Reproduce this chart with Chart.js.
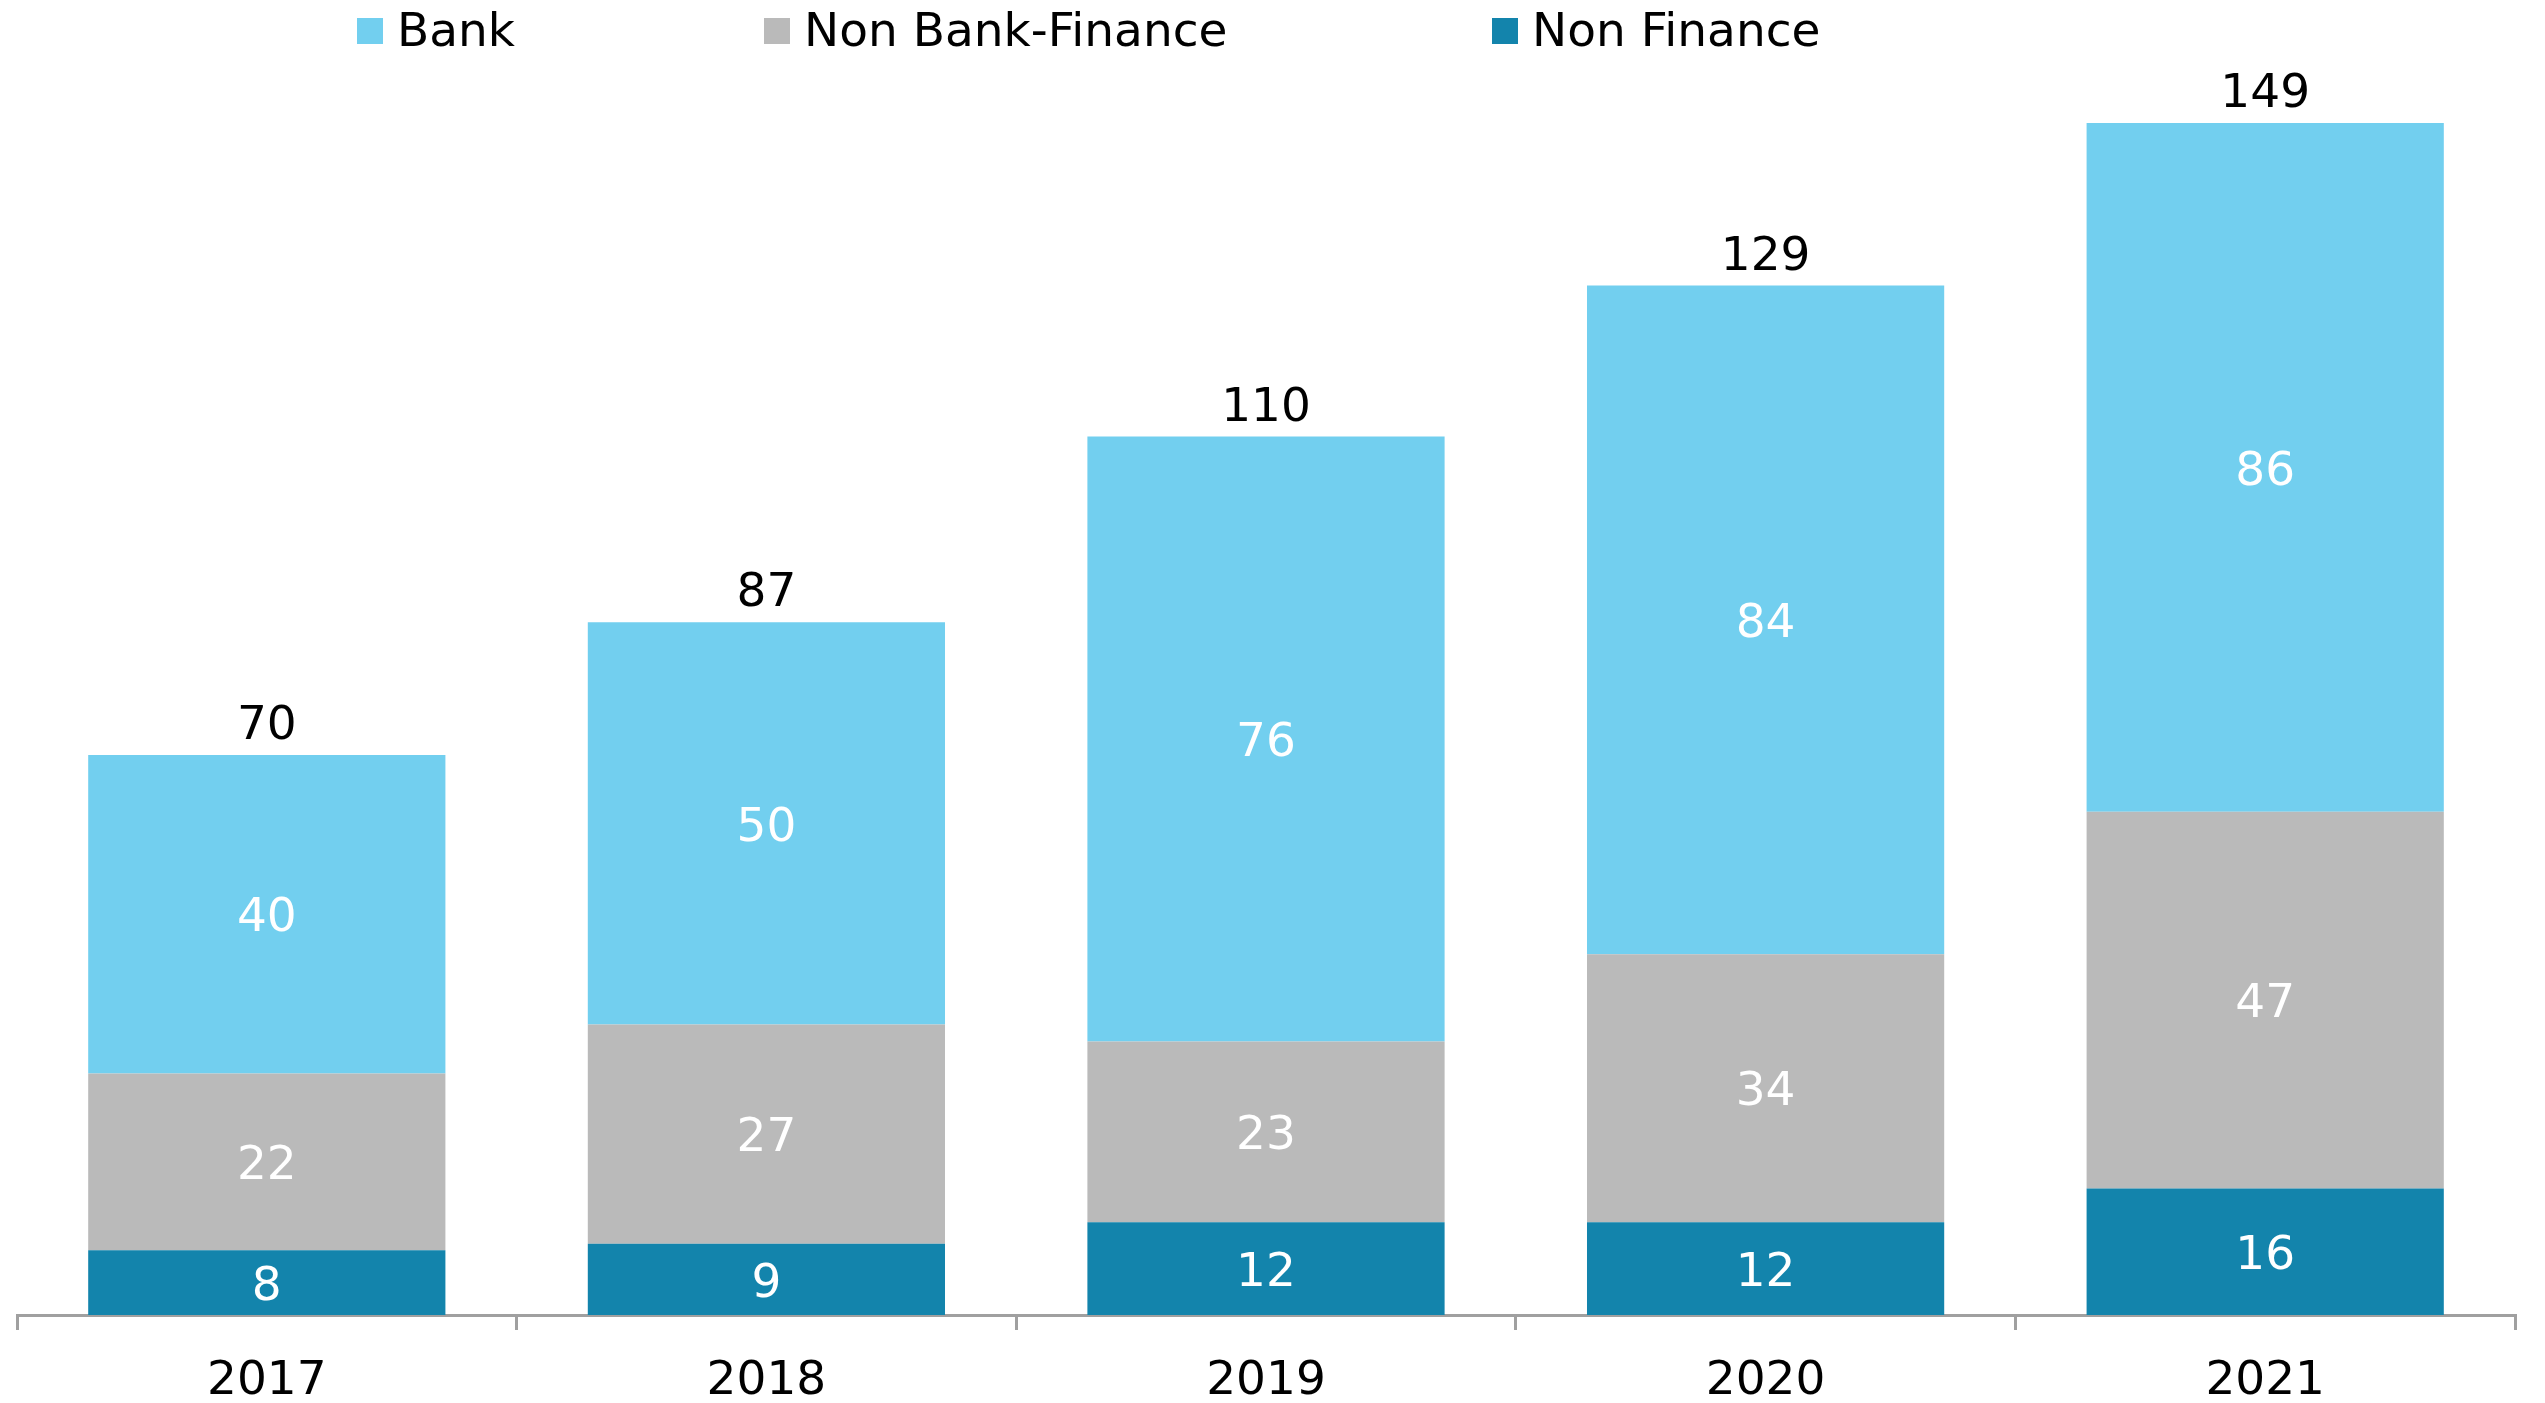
<!DOCTYPE html>
<html>
<head>
<meta charset="utf-8">
<script src="https://cdn.jsdelivr.net/npm/chart.js@4.4.1/dist/chart.umd.min.js"></script>
<style>
html,body{margin:0;padding:0;background:#fff;overflow:hidden}
#wrap{width:2545px;height:1403px;position:relative}
canvas{display:block}
</style>
</head>
<body>
<div id="wrap"><canvas id="c" width="2545" height="1403"></canvas></div>
<script>
// ---- data ----
const categories = ['2017', '2018', '2019', '2020', '2021'];
const nonFinance = [8.1, 8.9, 11.6, 11.6, 15.8];
const nonBankFinance = [22.1, 27.4, 22.6, 33.5, 47.1];
const bank = [39.8, 50.3, 75.6, 83.6, 86.1];
const seriesNames = ['Non Finance', 'Non Bank-Finance', 'Bank'];
const legendOrder = ['Bank', 'Non Bank-Finance', 'Non Finance'];

// ---- style ----
const COLORS = {
  'Non Finance': '#1384AC',
  'Non Bank-Finance': '#BABABA',
  'Bank': '#72CFEF'
};
const FONT = '"DejaVu Sans", Verdana, sans-serif';
const FS = 47;
Chart.defaults.font.family = FONT;

const valueLabels = {
  id: 'valueLabels',
  afterDatasetsDraw(chart) {
    const ctx = chart.ctx;
    ctx.save();
    ctx.font = FS + 'px ' + FONT;
    ctx.textAlign = 'center';
    ctx.textBaseline = 'middle';
    const n = chart.data.labels.length;
    chart.data.datasets.forEach((ds, di) => {
      const meta = chart.getDatasetMeta(di);
      meta.data.forEach((el, i) => {
        const v = ds.data[i];
        ctx.fillStyle = '#FFFFFF';
        ctx.fillText(String(Math.round(v)), el.x, (el.y + el.base) / 2 + 5);
      });
    });
    // totals
    const last = chart.getDatasetMeta(chart.data.datasets.length - 1);
    for (let i = 0; i < n; i++) {
      let sum = 0;
      chart.data.datasets.forEach(ds => sum += ds.data[i]);
      const el = last.data[i];
      ctx.fillStyle = '#000000';
      ctx.fillText(String(Math.round(sum)), el.x, el.y - 28);
    }
    ctx.restore();
  }
};

const customLegend = {
  id: 'customLegend',
  afterDraw(chart) {
    const ctx = chart.ctx;
    const boxX = [357, 764, 1492];
    ctx.save();
    ctx.font = FS + 'px ' + FONT;
    ctx.textAlign = 'left';
    ctx.textBaseline = 'alphabetic';
    legendOrder.forEach((name, k) => {
      const ds = chart.data.datasets.find(d => d.label === name);
      ctx.fillStyle = ds.backgroundColor;
      ctx.fillRect(boxX[k], 18, 26, 26);
      ctx.fillStyle = '#000000';
      ctx.fillText(name, boxX[k] + 40, 46);
    });
    ctx.restore();
  }
};

const seriesData = [nonFinance, nonBankFinance, bank];
const datasets = seriesNames.map((name, k) => ({
  label: name,
  data: seriesData[k],
  backgroundColor: COLORS[name],
  borderWidth: 0,
  categoryPercentage: 1.0,
  barPercentage: 0.715
}));

new Chart(document.getElementById('c'), {
  type: 'bar',
  data: { labels: categories, datasets },
  options: {
    responsive: false,
    animation: false,
    devicePixelRatio: 1,
    layout: { padding: { left: 17, right: 30, top: 35, bottom: 0 } },
    plugins: {
      legend: { display: false },
      tooltip: { enabled: false },
      title: { display: false }
    },
    scales: {
      x: {
        stacked: true,
        offset: true,
        grid: {
          display: true,
          offset: true,
          drawOnChartArea: false,
          drawTicks: true,
          tickLength: 15,
          color: '#A0A0A0',
          lineWidth: 3
        },
        border: { display: true, color: '#A0A0A0', width: 3 },
        ticks: {
          color: '#000000',
          font: { size: FS, family: FONT },
          padding: 24,
          maxRotation: 0,
          autoSkip: false
        },
        afterFit(scale) { scale.height = 88; }
      },
      y: {
        stacked: true,
        display: false,
        min: 0,
        max: 160
      }
    }
  },
  plugins: [valueLabels, customLegend]
});
</script>
</body>
</html>
